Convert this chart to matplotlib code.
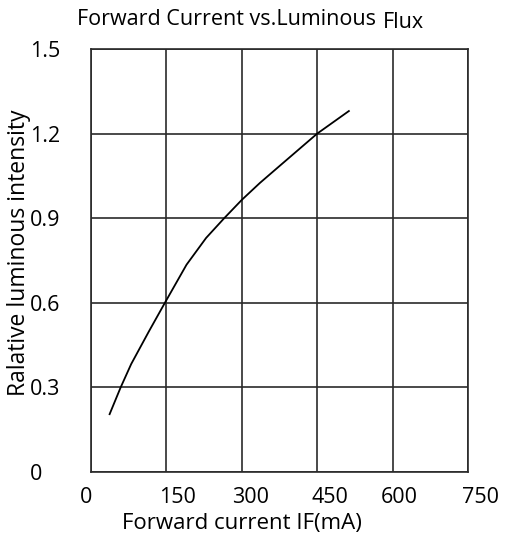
import numpy as np
import matplotlib.pyplot as plt
import matplotlib.transforms as mtrans

plt.rcParams['font.family'] = ['Open Sans', 'DejaVu Sans']

prad = [37, 59, 80, 115, 147, 190, 229, 265, 300, 336, 375, 450, 513]
jasnosc = [0.205, 0.30, 0.383, 0.498, 0.60, 0.735, 0.83, 0.90, 0.965, 1.025, 1.085, 1.20, 1.28]
xticks = [0, 150, 300, 450, 600, 750]
xtick_labels = ['0', '150', '300', '450', '600', '750']
yticks = [0, 0.3, 0.6, 0.9, 1.2, 1.5]
ytick_labels = ['0', '0.3', '0.6', '0.9', '1.2', '1.5']

W, H = 505, 537
fig = plt.figure(figsize=(W / 100, H / 100), dpi=100)
ax = fig.add_axes([91 / W, 1 - 472 / H, (468 - 91) / W, (472 - 49) / H])

ax.plot(prad, jasnosc, color='black', linewidth=1.3)
ax.set_xlim(0, 750)
ax.set_ylim(0, 1.5)
ax.set_xticks(xticks)
ax.set_xticklabels(xtick_labels)
ax.set_yticks(yticks)
ax.set_yticklabels(ytick_labels)
ax.grid(True, color='#2a2a2a', linewidth=1.2)
for s in ax.spines.values():
    s.set_linewidth(1.2)
    s.set_color('#2a2a2a')
ax.tick_params(axis='x', length=0, labelsize=15.5, pad=11)
ax.tick_params(axis='y', length=0, labelsize=15.5, pad=44)

# etykiety osi x sa przesuniete w prawo wzgledem linii siatki
przesuniecia = [-5, 11, 9, 13, 7, 13]
for lab, dx in zip(ax.get_xticklabels(), przesuniecia):
    lab.set_transform(lab.get_transform() +
                      mtrans.ScaledTranslation(dx / 100, 0, fig.dpi_scale_trans))
for lab in ax.get_yticklabels():
    lab.set_horizontalalignment('left')

fig.text(242 / W, 1 - 529 / H, "Forward current IF(mA)", fontsize=16,
         ha='center', va='baseline')
fig.text(19 / W, 1 - 253 / H, "Ralative luminous intensity", fontsize=16.5,
         ha='center', va='center', rotation=90)

fig.text(77 / W, 1 - 25 / H, "Forward Current vs.Luminous", fontsize=15.5,
         ha='left', va='baseline')
fig.text(383 / W, 1 - 28 / H, "Flux", fontsize=15.5, ha='left', va='baseline')

fig.savefig("out.png", dpi=100)
